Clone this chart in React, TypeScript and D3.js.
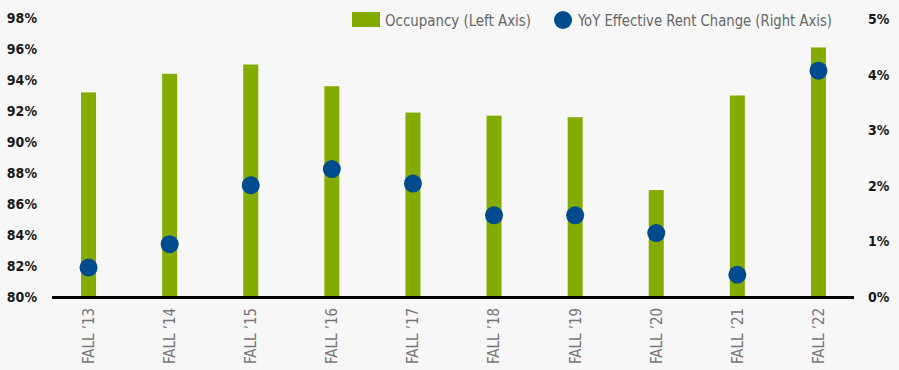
import React from "react";
import * as d3 from "d3";

const categories = ["FALL ’13", "FALL ’14", "FALL ’15", "FALL ’16", "FALL ’17", "FALL ’18", "FALL ’19", "FALL ’20", "FALL ’21", "FALL ’22"];
const occupancy = [93.2, 94.4, 95.0, 93.6, 91.9, 91.7, 91.6, 86.9, 93.0, 96.1];
const rentChange = [0.53, 0.95, 2.01, 2.3, 2.04, 1.47, 1.47, 1.15, 0.4, 4.07];
const leftTicks = [80, 82, 84, 86, 88, 90, 92, 94, 96, 98];
const rightTicks = [0, 1, 2, 3, 4, 5];
const legendLabels = ["Occupancy (Left Axis)", "YoY Effective Rent Change (Right Axis)"];

const W = 899;
const H = 370;
const FONT = "'Liberation Sans Narrow', 'DejaVu Sans Condensed', 'Roboto', sans-serif";
const GREEN = "#84ac00";
const BLUE = "#004b8e";

export default function App() {
  const x = d3.scaleBand<string>().domain(categories).range([48, 859]).padding(0);
  const yL = d3.scaleLinear().domain([80, 98]).range([297, 18]);
  const yR = d3.scaleLinear().domain([0, 5]).range([297, 19]);
  const barW = 15;

  return (
    <svg width={W} height={H} style={{ position: "absolute", left: 0, top: 0, background: "#f7f7f7" }} fontFamily={FONT}>
      <rect x={0} y={0} width={W} height={H} fill="#f7f7f7" />
      {leftTicks.map((t) => (
        <text key={"l" + t} x={37} y={yL(t)} dy="0.36em" textAnchor="end" fontSize={14} fontWeight="bold" fill="#1a1a1a">
          {t}%
        </text>
      ))}
      {rightTicks.map((t) => (
        <text key={"r" + t} x={868} y={yR(t)} dy="0.36em" textAnchor="start" fontSize={14} fontWeight="bold" fill="#1a1a1a">
          {t}%
        </text>
      ))}
      {categories.map((c, i) => {
        const cx = (x(c) as number) + x.bandwidth() / 2;
        return (
          <rect key={"b" + c} x={cx - barW / 2} y={yL(occupancy[i])} width={barW} height={yL(80) - yL(occupancy[i])} fill={GREEN} />
        );
      })}
      <line x1={52} x2={854} y1={297.5} y2={297.5} stroke="#000" strokeWidth={3} />
      {categories.map((c, i) => {
        const cx = (x(c) as number) + x.bandwidth() / 2;
        return <circle key={"d" + c} cx={cx} cy={yR(rentChange[i])} r={9} fill={BLUE} />;
      })}
      {categories.map((c) => {
        const cx = (x(c) as number) + x.bandwidth() / 2;
        return (
          <text key={"x" + c} transform={`translate(${cx},${308}) rotate(-90)`} dy="0.36em" textAnchor="end" fontSize={15} fill="#777" textLength={56} lengthAdjust="spacingAndGlyphs">
            {c}
          </text>
        );
      })}
      <rect x={352} y={12} width={28} height={15} fill={GREEN} />
      <text x={385} y={20} dy="0.36em" fontSize={16} fill="#666" textLength={146} lengthAdjust="spacingAndGlyphs">
        {legendLabels[0]}
      </text>
      <circle cx={563} cy={20} r={9} fill={BLUE} />
      <text x={578} y={20} dy="0.36em" fontSize={16} fill="#666" textLength={254} lengthAdjust="spacingAndGlyphs">
        {legendLabels[1]}
      </text>
    </svg>
  );
}
